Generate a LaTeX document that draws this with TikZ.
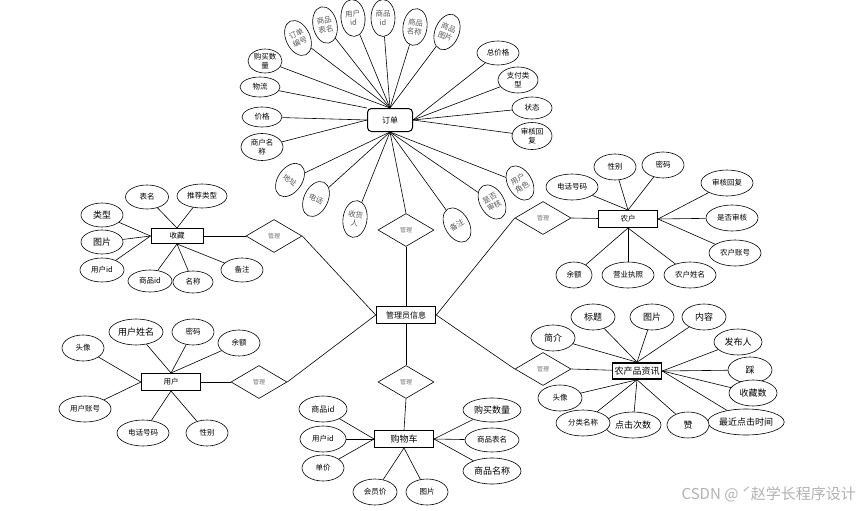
\documentclass[tikz,border=0pt]{standalone}
\usepackage{fontspec}
\setmainfont{Noto Sans CJK SC}
\usetikzlibrary{shapes.geometric}
\tikzset{
 every node/.style={font=\fontsize{7.5}{8.5}\selectfont},
 attr/.style n args={2}{ellipse, draw, fill=white, line width=0.6pt, minimum width=#1pt, minimum height=#2pt, inner sep=0pt, align=center},
 big/.style={font=\fontsize{9}{10}\selectfont},
 mid/.style={font=\fontsize{8}{9}\selectfont},
 rattr/.style={ellipse, draw, fill=white, line width=0.6pt, minimum width=24pt, minimum height=37pt, inner sep=0pt, align=center, text=black!65, rotate=#1, font=\fontsize{7.5}{9}\selectfont},
 ent/.style={rectangle, draw, fill=white, line width=1pt, minimum width=59pt, minimum height=17pt, inner sep=0pt},
 dbl/.style={line width=1.6pt},
 rel/.style={diamond, draw, fill=white, line width=0.6pt, minimum width=56pt, minimum height=33pt, inner sep=0pt, aspect=1.7, text=black!55, font=\fontsize{6}{7}\selectfont},
 conn/.style={line width=0.6pt},
}
\begin{document}
\begin{tikzpicture}[x=1pt, y=-1pt]
\useasboundingbox (0,0) rectangle (859,511);
% entities
\node[ent, rounded corners=4pt, minimum width=45pt, minimum height=23pt, mid] (dd) at (390,120) {订单};
\node[ent, minimum width=52pt, minimum height=15pt] (sc) at (177,236) {收藏};
\node[ent] (nh) at (628,219) {农户};
\node[ent] (yh) at (171,382) {用户};
\node[ent, dbl, mid] (gl) at (406,315) {管理员信息};
\node[ent, big] (gwc) at (404,439) {购物车};
\node[ent, dbl, minimum width=49pt, minimum height=16pt, big] (nc) at (637,371) {农产品资讯};
% relations
\node[rel] (r1) at (274,236) {管理};
\node[rel] (r2) at (406,230) {管理};
\node[rel] (r3) at (543,218) {管理};
\node[rel] (r4) at (259,382) {管理};
\node[rel] (r5) at (406,382) {管理};
\node[rel] (r6) at (543,369) {管理};
\draw[conn] (sc) -- (r1.west);
\draw[conn] (r1.east) -- (gl.west);
\draw[conn] (r2.north) -- (dd.south);
\draw[conn] (r2.south) -- (gl.north);
\draw[conn] (nh) -- (r3.east);
\draw[conn] (r3.west) -- (gl.east);
\draw[conn] (yh) -- (r4.west);
\draw[conn] (r4.east) -- (gl.west);
\draw[conn] (gl.south) -- (r5.north);
\draw[conn] (r5.south) -- (gwc.north);
\draw[conn] (nc) -- (r6.east);
\draw[conn] (r6.west) -- (gl.east);
% 订单 attributes
\node[rattr=25] (d1) at (298,38) {订单\\编号};
\node[rattr=12] (d2) at (325,25) {商品\\表名};
\node[rattr=5] (d3) at (353,18) {用户\\id};
\node[rattr=0] (d4) at (383,18) {商品\\id};
\node[rattr=-8] (d5) at (415,27) {商品\\名称};
\node[rattr=-22] (d6) at (447,32) {商品\\图片};
\node[attr={34}{24}] (d7) at (265,61) {购买数\\量};
\node[attr={40}{20}] (d8) at (260,87) {物流};
\node[attr={40}{20}] (d9) at (262,117) {价格};
\node[attr={42}{27}] (d10) at (262,147) {商户名\\称};
\node[attr={42}{24}] (d11) at (498,53) {总价格};
\node[attr={40}{26}] (d12) at (518,80) {支付类\\型};
\node[attr={40}{22}] (d13) at (532,108) {状态};
\node[attr={40}{27}] (d14) at (532,136) {审核回\\复};
\node[rattr=-35] (d15) at (290,180) {地址};
\node[rattr=-25] (d16) at (316,199) {电话};
\node[rattr=-8] (d17) at (355,219) {收货\\人};
\node[rattr=30] (d18) at (457,225) {备注};
\node[rattr=30] (d19) at (492,202) {是否\\审核};
\node[rattr=30] (d20) at (520,183) {用户\\角色};
\foreach \a in {d1,d2,d3,d4,d5,d6,d7} \draw[conn] (\a) -- (dd.north);
\draw[conn] (d8) -- (dd.north west);
\foreach \a in {d9,d10} \draw[conn] (\a) -- (dd.west);
\foreach \a in {d11,d12,d13,d14} \draw[conn] (\a) -- (dd.east);
\foreach \a in {d15,d16,d17,d18,d19,d20} \draw[conn] (\a) -- (dd.south);
% 收藏 attributes
\node[attr={43}{24}] (s1) at (147,197) {表名};
\node[attr={50}{24}] (s2) at (202,196) {推荐类型};
\node[attr={42}{24}, big] (s3) at (102,215) {类型};
\node[attr={42}{24}, big] (s4) at (102,242) {图片};
\node[attr={44}{24}] (s5) at (102,270) {用户id};
\node[attr={44}{22}] (s6) at (150,281) {商品id};
\node[attr={40}{22}] (s7) at (193,282) {名称};
\node[attr={42}{24}] (s8) at (242,270) {备注};
\foreach \a in {s1,s2} \draw[conn] (\a) -- (sc.north);
\foreach \a in {s3,s4,s5} \draw[conn] (\a) -- (sc.west);
\foreach \a in {s6,s7,s8} \draw[conn] (\a) -- (sc.south);
% 农户 attributes
\node[attr={52}{26}] (n1) at (572,187) {电话号码};
\node[attr={42}{26}] (n2) at (615,167) {性别};
\node[attr={42}{26}] (n3) at (663,165) {密码};
\node[attr={52}{26}] (n4) at (727,183) {审核回复};
\node[attr={52}{26}] (n5) at (732,218) {是否审核};
\node[attr={52}{26}] (n6) at (735,253) {农户账号};
\node[attr={36}{26}] (n7) at (574,275) {余额};
\node[attr={52}{26}] (n8) at (628,275) {营业执照};
\node[attr={52}{26}] (n9) at (690,275) {农户姓名};
\foreach \a in {n1,n2,n3} \draw[conn] (\a) -- (nh.north);
\foreach \a in {n4,n5,n6} \draw[conn] (\a) -- (nh.east);
\foreach \a in {n7,n8,n9} \draw[conn] (\a) -- (nh.south);
% 用户 attributes
\node[attr={42}{26}] (u1) at (83,348) {头像};
\node[attr={54}{26}, big] (u2) at (136,332) {用户姓名};
\node[attr={42}{26}] (u3) at (193,332) {密码};
\node[attr={42}{26}] (u4) at (239,343) {余额};
\node[attr={52}{26}] (u5) at (85,409) {用户账号};
\node[attr={52}{26}] (u6) at (143,433) {电话号码};
\node[attr={42}{26}] (u7) at (207,433) {性别};
\draw[conn] (u1) -- (yh.west);
\foreach \a in {u2,u3,u4} \draw[conn] (\a) -- (yh.north);
\draw[conn] (u5) -- (yh.west);
\foreach \a in {u6,u7} \draw[conn] (\a) -- (yh.south);
% 购物车 attributes
\node[attr={48}{26}, mid] (g1) at (323,409) {商品id};
\node[attr={46}{26}] (g2) at (323,439) {用户id};
\node[attr={42}{26}] (g3) at (323,468) {单价};
\node[attr={44}{26}] (g4) at (375,492) {会员价};
\node[attr={42}{26}] (g5) at (427,492) {图片};
\node[attr={58}{24}, big] (g6) at (492,410) {购买数量};
\node[attr={54}{24}] (g7) at (492,440) {商品表名};
\node[attr={58}{26}, big] (g8) at (492,471) {商品名称};
\foreach \a in {g1,g2,g3} \draw[conn] (\a) -- (gwc.west);
\foreach \a in {g4,g5} \draw[conn] (\a) -- (gwc.south);
\foreach \a in {g6,g7,g8} \draw[conn] (\a) -- (gwc.east);
% 农产品资讯 attributes
\node[attr={44}{26}, big] (p1) at (553,338) {简介};
\node[attr={44}{26}, big] (p2) at (593,317) {标题};
\node[attr={44}{26}, big] (p3) at (652,317) {图片};
\node[attr={44}{26}, big] (p4) at (704,317) {内容};
\node[attr={48}{26}, big] (p5) at (738,342) {发布人};
\node[attr={44}{26}, big] (p6) at (750,370) {踩};
\node[attr={48}{26}, big] (p7) at (753,393) {收藏数};
\node[attr={74}{26}, big] (p8) at (746,422) {最近点击时间};
\node[attr={42}{26}, big] (p9) at (688,425) {赞};
\node[attr={56}{26}, big] (p10) at (633,425) {点击次数};
\node[attr={54}{26}] (p11) at (583,423) {分类名称};
\node[attr={44}{26}] (p12) at (560,398) {头像};
\foreach \a in {p1,p2,p3,p4} \draw[conn] (\a) -- (nc.north);
\foreach \a in {p5,p6,p7,p8} \draw[conn] (\a) -- (nc.east);
\foreach \a in {p9,p10,p11,p12} \draw[conn] (\a) -- (nc.south);
% watermark
\node[text=black!30, font=\fontsize{15}{16}\selectfont, anchor=east, inner sep=0pt] (wm) at (856,494) {CSDN @ ˊ赵学长程序设计};
\end{tikzpicture}
\end{document}
